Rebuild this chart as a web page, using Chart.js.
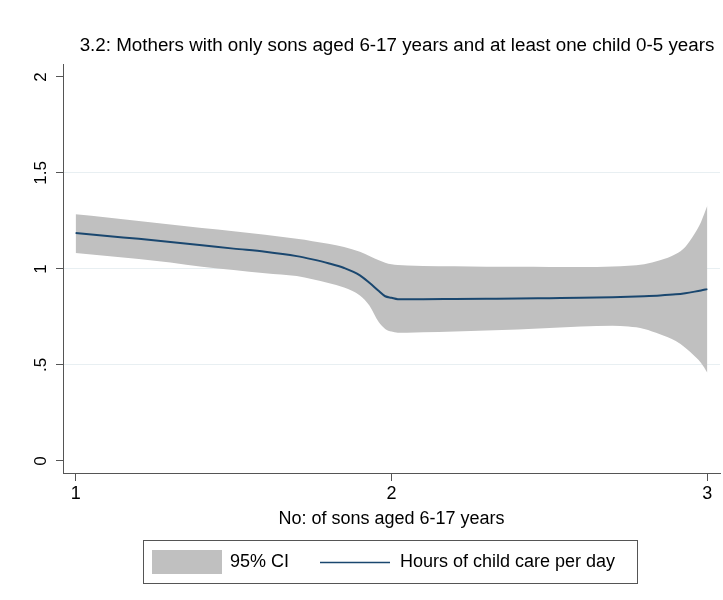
<!DOCTYPE html>
<html>
<head>
<meta charset="utf-8">
<script src="https://cdn.jsdelivr.net/npm/chart.js@4.4.1/dist/chart.umd.min.js"></script>
<style>
  html, body { margin: 0; padding: 0; background: #ffffff; }
  #wrap { width: 723px; height: 600px; position: relative; }
</style>
</head>
<body>
<div id="wrap"><canvas id="c" width="723" height="600"></canvas></div>
<script>
// Number of sons aged 6-17 (x grid of the local fit)
const sons = [1.0, 1.1, 1.2, 1.3, 1.4, 1.5, 1.6, 1.7, 1.75, 1.8, 1.85, 1.9, 1.93, 1.96, 1.98,
              2.0, 2.02, 2.05, 2.1, 2.2, 2.3, 2.4, 2.5, 2.6, 2.7, 2.75, 2.8, 2.85, 2.9, 2.93, 2.96, 2.98, 3.0];
// Fitted hours of child care per day
const careHours = [1.188, 1.172, 1.157, 1.141, 1.124, 1.106, 1.090, 1.067, 1.050, 1.030, 1.005, 0.967, 0.928, 0.885, 0.858,
                   0.850, 0.843, 0.842, 0.843, 0.844, 0.845, 0.846, 0.848, 0.850, 0.853, 0.855, 0.858, 0.862, 0.868, 0.874, 0.882, 0.888, 0.895];
// 95% confidence band
const ciUpper = [1.285, 1.268, 1.250, 1.232, 1.214, 1.197, 1.178, 1.157, 1.145, 1.132, 1.115, 1.090, 1.068, 1.046, 1.033,
                 1.025, 1.021, 1.018, 1.016, 1.014, 1.012, 1.011, 1.010, 1.010, 1.013, 1.017, 1.025, 1.045, 1.078, 1.115, 1.185, 1.245, 1.330];
const ciLower = [1.083, 1.068, 1.052, 1.034, 1.012, 0.995, 0.978, 0.963, 0.947, 0.927, 0.903, 0.862, 0.810, 0.722, 0.688,
                 0.674, 0.668, 0.668, 0.670, 0.675, 0.680, 0.685, 0.692, 0.700, 0.704, 0.700, 0.688, 0.660, 0.625, 0.590, 0.545, 0.510, 0.460];

const yTicks = [0, 0.5, 1, 1.5, 2];
const yTickLabels = ['0', '.5', '1', '1.5', '2'];
const xTicks = [1, 2, 3];

const titleText = '3.2: Mothers with only sons aged 6-17 years and at least one child 0-5 years';
const xTitle = 'No: of sons aged 6-17 years';
const legendLabels = ['95% CI', 'Hours of child care per day'];

const NAVY = '#1a476f';
const BAND = '#c0c0c0';
const AXIS = '#555555';
const GRID = '#e8eff2';
const FONT = '"Liberation Sans", Arial, Helvetica, sans-serif';

const pts = (ys) => sons.map((s, i) => ({ x: s, y: ys[i] }));

// Title, rotated y labels, x-axis title and the boxed legend
const textPlugin = {
  id: 'stataText',
  afterDraw(chart) {
    const ctx = chart.ctx;
    const xs = chart.scales.x, ys = chart.scales.y;
    ctx.save();
    ctx.fillStyle = '#000';
    ctx.textAlign = 'center';
    ctx.textBaseline = 'middle';
    ctx.font = '18.8px ' + FONT;
    ctx.fillText(titleText, 397, 46);

    ctx.font = '17px ' + FONT;
    yTicks.forEach((v, i) => {
      const py = ys.getPixelForValue(v);
      ctx.save();
      ctx.translate(41, py);
      ctx.rotate(-Math.PI / 2);
      ctx.fillText(yTickLabels[i], 0, 0);
      ctx.restore();
    });

    ctx.font = '18px ' + FONT;
    ctx.fillText(xTitle, xs.getPixelForValue(2), 519);

    // legend
    ctx.strokeStyle = AXIS;
    ctx.lineWidth = 1;
    ctx.strokeRect(143.5, 540.5, 494, 43);
    ctx.fillStyle = BAND;
    ctx.fillRect(152, 550, 70, 24);
    ctx.fillStyle = '#000';
    ctx.textAlign = 'left';
    ctx.fillText(legendLabels[0], 230, 562);
    ctx.strokeStyle = NAVY;
    ctx.lineWidth = 1.5;
    ctx.beginPath();
    ctx.moveTo(320, 562.5);
    ctx.lineTo(390, 562.5);
    ctx.stroke();
    ctx.fillText(legendLabels[1], 400, 562);
    ctx.restore();
  }
};

new Chart(document.getElementById('c'), {
  type: 'line',
  data: {
    datasets: [
      {
        label: legendLabels[1],
        data: pts(careHours),
        borderColor: NAVY,
        borderWidth: 2,
        pointRadius: 0,
        fill: false,
        cubicInterpolationMode: 'monotone'
      },
      {
        label: legendLabels[0],
        data: pts(ciUpper),
        borderWidth: 0,
        borderColor: 'rgba(0,0,0,0)',
        backgroundColor: BAND,
        pointRadius: 0,
        fill: '+1',
        cubicInterpolationMode: 'monotone'
      },
      {
        label: 'lower',
        data: pts(ciLower),
        borderWidth: 0,
        borderColor: 'rgba(0,0,0,0)',
        pointRadius: 0,
        fill: false,
        cubicInterpolationMode: 'monotone'
      }
    ]
  },
  options: {
    responsive: false,
    devicePixelRatio: 1,
    animation: false,
    layout: { padding: { top: 64, left: 0, right: 3, bottom: 0 } },
    plugins: {
      legend: { display: false },
      tooltip: { enabled: false },
      title: { display: false }
    },
    scales: {
      x: {
        type: 'linear',
        min: 0.96,
        max: 3.04,
        afterFit: (s) => { s.height = 127; },
        afterBuildTicks: (s) => { s.ticks = xTicks.map(v => ({ value: v })); },
        ticks: {
          includeBounds: false,
          color: '#000',
          font: { family: FONT, size: 18 },
          padding: 2,
          callback: (v) => String(v),
          maxRotation: 0
        },
        grid: {
          drawOnChartArea: false,
          drawTicks: true,
          tickLength: 8,
          tickColor: AXIS
        },
        border: { color: AXIS, width: 1 }
      },
      y: {
        type: 'linear',
        min: -0.0625,
        max: 2.0675,
        afterFit: (s) => { s.width = 63; },
        afterBuildTicks: (s) => { s.ticks = yTicks.map(v => ({ value: v })); },
        ticks: { display: false, includeBounds: false },
        grid: {
          color: (c) => (c.tick && (c.tick.value === 0 || c.tick.value === 2)) ? 'rgba(0,0,0,0)' : GRID,
          lineWidth: 1,
          drawTicks: true,
          tickLength: 7,
          tickColor: AXIS
        },
        border: { color: AXIS, width: 1 }
      }
    }
  },
  plugins: [textPlugin]
});
</script>
</body>
</html>
